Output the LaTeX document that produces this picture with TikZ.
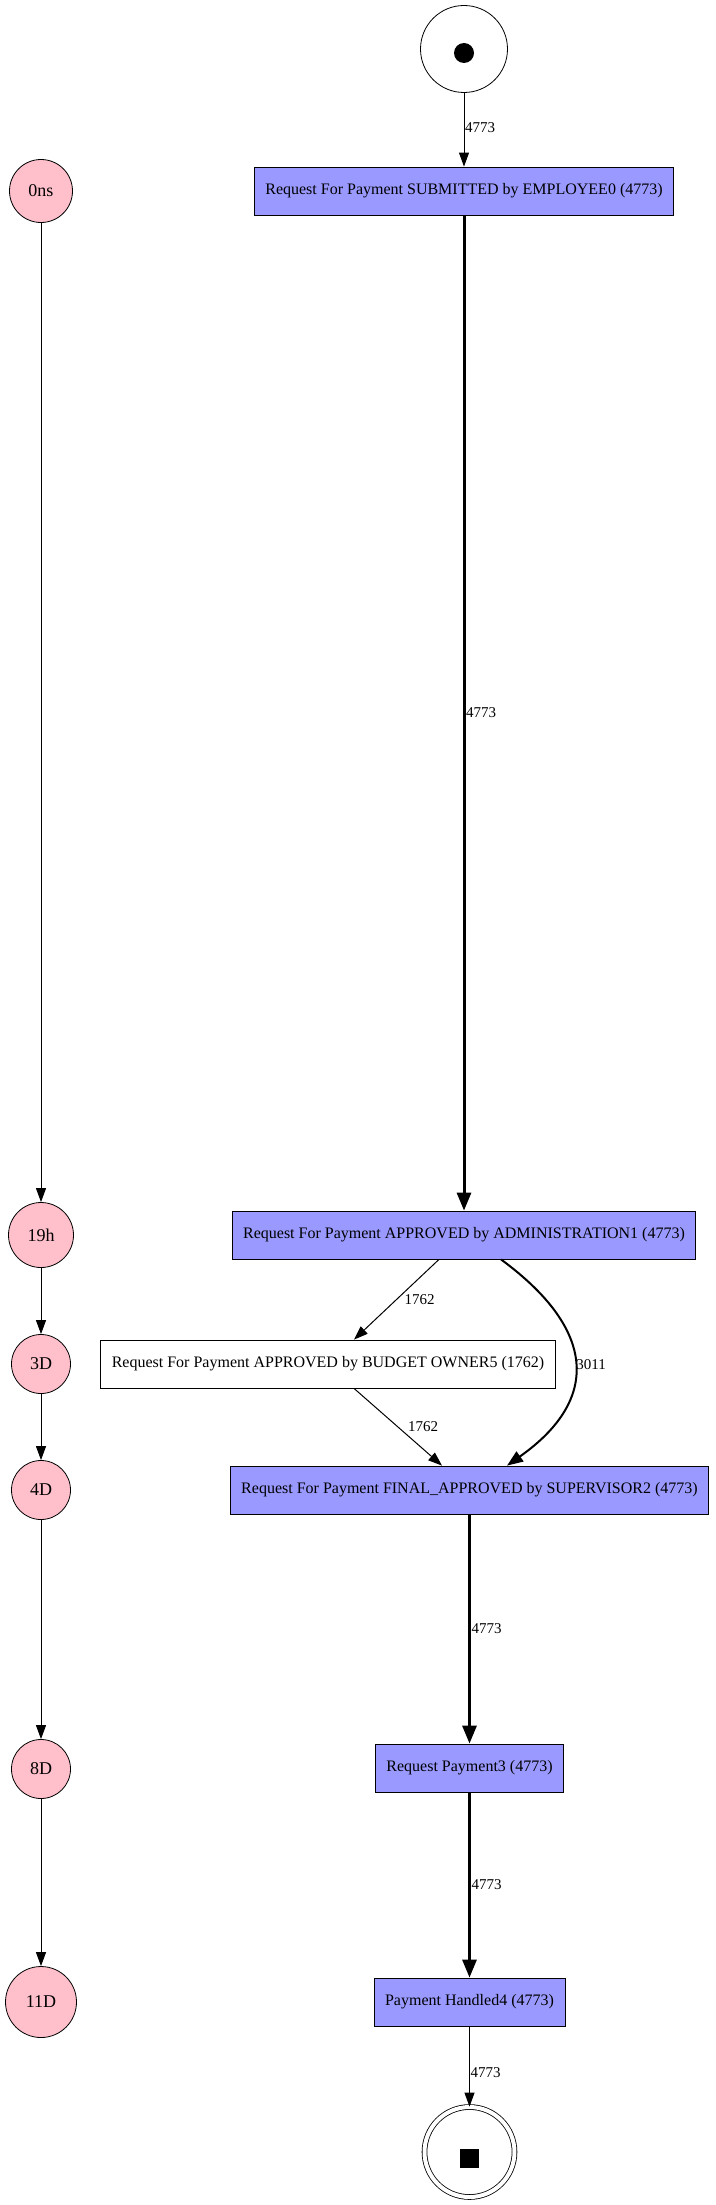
\documentclass[tikz,border=0pt]{standalone}
\usepackage{fontspec}
\setmainfont{Liberation Serif}
\usetikzlibrary{arrows.meta}
\definecolor{actblue}{RGB}{153,153,255}
\definecolor{tpink}{RGB}{255,192,203}

\begin{document}
\begin{tikzpicture}[x=1pt,y=-1pt,
 act/.style={draw,line width=.8pt,fill=actblue,minimum height=48pt,inner xsep=11pt,font=\fontsize{16}{19}\selectfont},
 tm/.style={circle,draw,line width=.8pt,fill=tpink,inner sep=0pt,font=\fontsize{18}{21}\selectfont},
 lbl/.style={font=\fontsize{15}{18}\selectfont,inner sep=.5pt},
 fl/.style={line width=1pt,-{Triangle[length=14pt,width=10pt]}},
 fm/.style={line width=2pt,-{Triangle[length=16pt,width=12pt]}},
 fh/.style={line width=3pt,-{Triangle[length=18pt,width=14pt]}}]
\useasboundingbox (0,0) rectangle (715,2205);
% start and end
\node[circle,draw,line width=.8pt,minimum size=87pt] (start) at (464,49) {};
\node[circle,fill,minimum size=20pt,inner sep=0pt] (dot) at ([yshift=-4pt]start.center) {};
\node[circle,draw,line width=.8pt,double,double distance=4pt,minimum size=90pt] (end) at (469.5,2152) {};
\node[fill,minimum size=19pt,inner sep=0pt] (sq) at ([yshift=-6pt]end.center) {};
% activities
\node[act] (b0) at (464,191) {Request For Payment SUBMITTED by EMPLOYEE0 (4773)};
\node[act] (b1) at (464,1235) {Request For Payment APPROVED by ADMINISTRATION1 (4773)};
\node[act,fill=white] (bo) at (328,1364) {Request For Payment APPROVED by BUDGET OWNER5 (1762)};
\node[act] (b3) at (469.5,1490) {Request For Payment FINAL\_APPROVED by SUPERVISOR2 (4773)};
\node[act] (b4) at (469.5,1768) {Request Payment3 (4773)};
\node[act] (b5) at (469.5,2002) {Payment Handled4 (4773)};
% time line
\foreach \n/\t/\y/\d in {T0/0ns/191/63,T1/19h/1235/65,T2/3D/1364/59,T3/4D/1490/59,T4/8D/1769/59,T5/11D/2002/71}{\node[tm,minimum size=\d pt] (\n) at (41,\y) {\t};}
\foreach \a/\b in {T0/T1,T1/T2,T2/T3,T3/T4,T4/T5}{\draw[fl] (\a)--(\b);}
% flow
\draw[fl] (start)-- node[lbl,right,pos=.47]{4773} (b0);
\draw[fh] (b0)-- node[lbl,right]{4773} (b1);
\draw[fl] ([xshift=-25pt]b1.south)-- node[lbl,right=7pt]{1762} ([xshift=26pt]bo.north);
\draw[fl] ([xshift=26pt]bo.south)-- node[lbl,right=9pt]{1762} ([xshift=-27.5pt]b3.north);
\draw[fm] ([xshift=37pt]b1.south) .. controls (597,1330) and (600,1400) .. ([xshift=37.5pt]b3.north) node[lbl,right,pos=.5]{3011};
\draw[fh] (b3)-- node[lbl,right]{4773} (b4);
\draw[fh] (b4)-- node[lbl,right]{4773} (b5);
\draw[fl] (b5)-- node[lbl,right,pos=.58]{4773} (end);
\end{tikzpicture}
\end{document}
